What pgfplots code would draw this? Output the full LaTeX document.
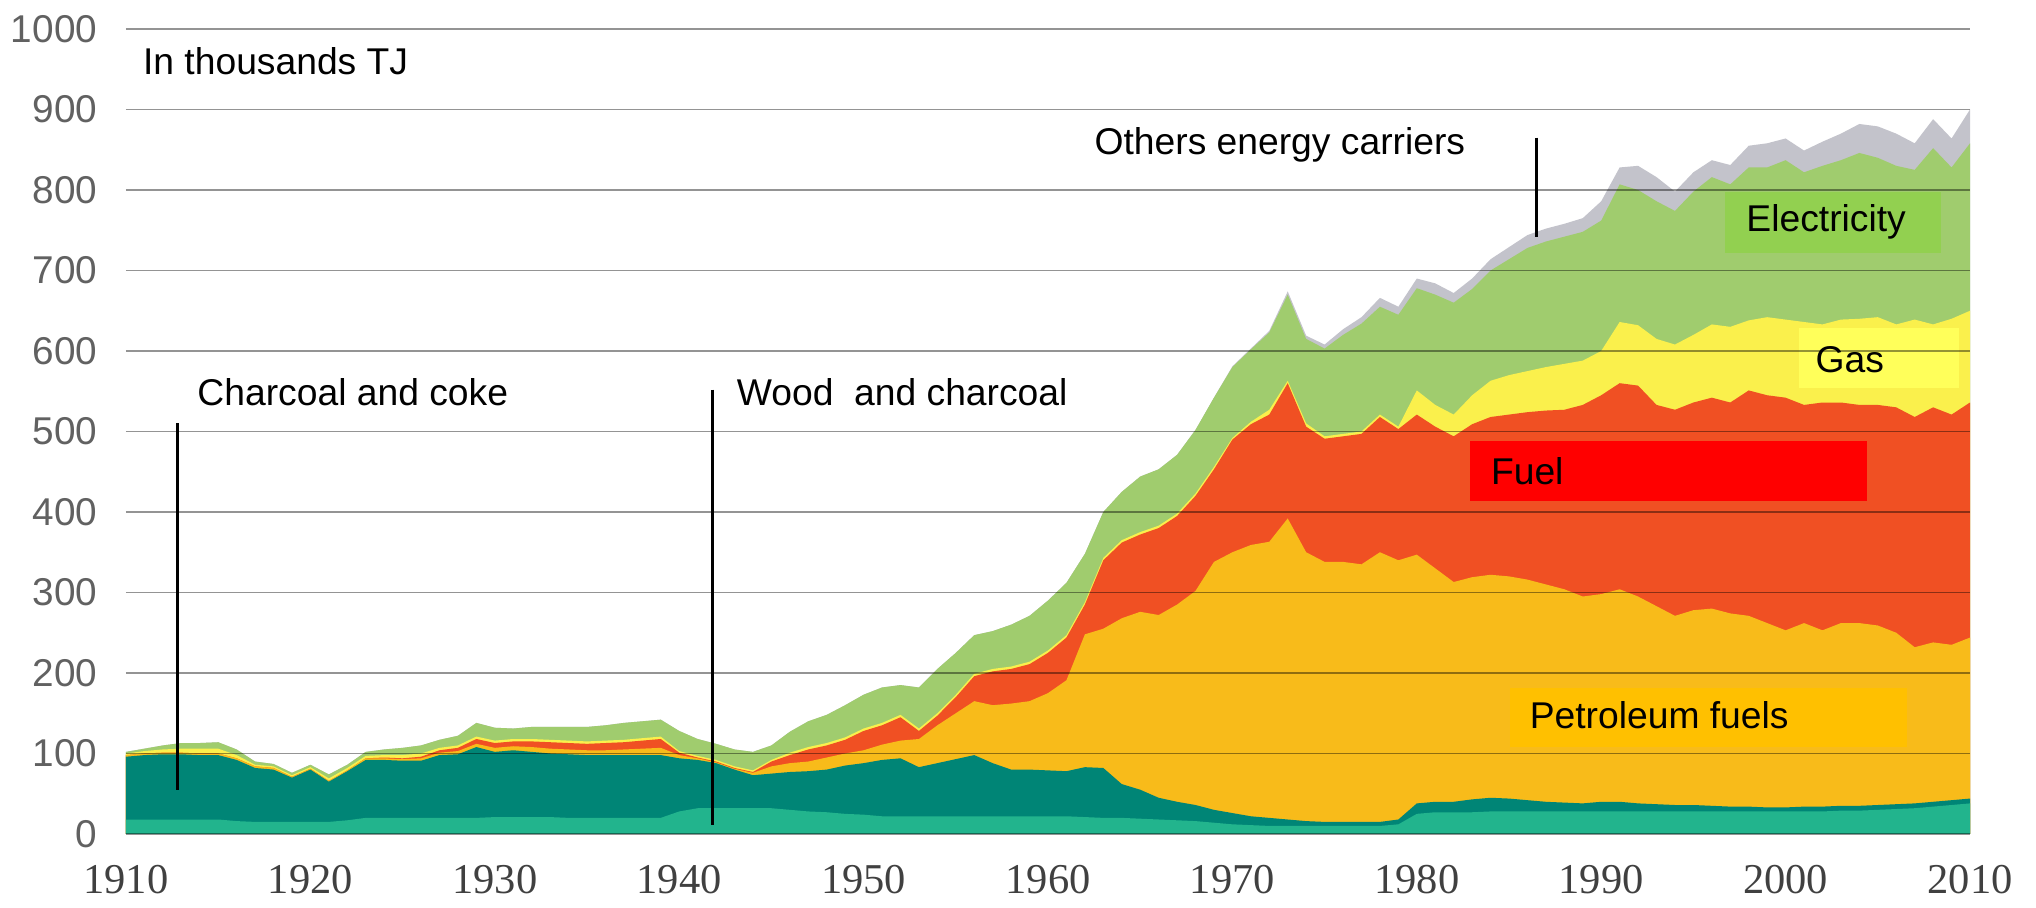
\documentclass[border=0pt]{standalone}
\usepackage{fontspec}
\setmainfont{Liberation Sans}
\newfontfamily\serifx{Liberation Serif}
\usepackage{pgfplots}
\usepackage{pgfplotstable}
\pgfplotsset{compat=1.18}
\definecolor{cW}{RGB}{34,180,141}
\definecolor{cC}{RGB}{0,133,118}
\definecolor{cP}{RGB}{248,187,26}
\definecolor{cF}{RGB}{240,80,35}
\definecolor{cG}{RGB}{250,240,76}
\definecolor{cE}{RGB}{160,204,110}
\definecolor{cO}{RGB}{195,195,203}
\definecolor{bE}{RGB}{146,208,80}
\definecolor{bG}{RGB}{255,255,90}
\definecolor{bP}{RGB}{255,192,0}
\pgfplotstableread{
year Wt Ct Pt Ft Gt Et Ot
1910 18 96 98 98 100 102 102
1911 18 98 100 100 103 106 106
1912 18 99 101 101 105 110 110
1913 18 99 101 101 106 113 113
1914 18 98 100 100 106 113 113
1915 18 98 100 100 106 114 114
1916 16 92 94 94 98 105 105
1917 15 82 84 84 86 90 90
1918 15 80 82 82 84 87 87
1919 15 70 71 71 73 76 76
1920 15 80 81 81 83 86 86
1921 15 65 66 66 69 74 74
1922 17 78 79 79 82 86 86
1923 20 92 94 94 97 102 102
1924 20 92 94 95 98 105 105
1925 20 91 93 94 98 107 107
1926 20 91 94 96 100 110 110
1927 20 98 101 104 107 117 117
1928 20 99 103 107 110 122 122
1929 20 108 112 118 121 138 138
1930 21 102 107 113 116 132 132
1931 21 104 109 115 118 131 131
1932 21 102 108 115 118 133 133
1933 21 100 106 114 117 133 133
1934 20 99 105 113 116 133 133
1935 20 98 104 112 115 133 133
1936 20 98 104 113 116 135 135
1937 20 98 105 114 117 138 138
1938 20 98 106 116 119 140 140
1939 20 98 107 118 121 142 142
1940 28 94 98 101 103 128 128
1941 32 92 94 95 97 118 118
1942 32 88 89 90 92 112 112
1943 32 80 81 82 84 105 105
1944 32 73 76 77 79 102 102
1945 32 75 84 90 92 110 110
1946 30 77 88 98 101 127 127
1947 28 78 90 105 108 140 140
1948 27 80 95 110 113 148 148
1949 25 85 100 117 120 160 160
1950 24 88 104 128 131 173 173
1951 22 92 111 135 138 182 182
1952 22 94 116 145 148 185 185
1953 22 83 118 128 131 182 182
1954 22 88 135 147 150 205 205
1955 22 93 150 170 173 225 225
1956 22 98 165 196 199 247 247
1957 22 88 160 202 205 252 252
1958 22 80 162 205 208 260 260
1959 22 80 165 211 214 271 271
1960 22 79 175 225 228 290 290
1961 22 78 191 244 247 312 312
1962 21 83 248 285 288 348 348
1963 20 82 255 340 343 400 400
1964 20 62 268 362 365 425 425
1965 19 55 276 372 375 444 444
1966 18 45 272 380 383 453 453
1967 17 40 285 395 398 471 471
1968 16 36 302 420 423 502 502
1969 14 30 338 453 456 542 542
1970 12 26 350 490 492 580 581
1971 11 22 359 509 512 602 603
1972 10 20 363 521 527 623 625
1973 10 18 392 560 563 670 674
1974 10 16 350 506 510 615 619
1975 10 15 338 491 494 603 608
1976 10 15 338 494 497 620 627
1977 10 15 335 497 500 634 642
1978 10 15 350 518 521 655 666
1979 12 18 340 503 506 645 655
1980 25 38 347 521 551 678 690
1981 27 40 330 506 533 670 684
1982 27 40 313 494 521 660 672
1983 27 43 319 509 545 677 690
1984 28 45 322 518 563 700 714
1985 28 44 320 521 570 714 729
1986 28 42 316 524 575 728 744
1987 28 40 310 526 580 736 752
1988 28 39 304 527 584 742 758
1989 28 38 295 533 588 748 765
1990 28 40 298 545 600 762 786
1991 28 40 304 560 636 807 828
1992 28 38 295 557 632 800 830
1993 28 37 283 533 615 786 816
1994 28 36 271 527 608 774 798
1995 28 36 278 536 620 798 822
1996 28 35 280 542 633 816 837
1997 28 34 274 536 630 807 831
1998 28 34 271 551 638 828 855
1999 28 33 262 545 642 828 858
2000 28 33 253 542 639 837 864
2001 28 34 262 533 636 822 849
2002 28 34 253 536 633 830 860
2003 29 35 262 536 639 837 870
2004 29 35 262 533 640 846 882
2005 30 36 259 533 642 840 879
2006 31 37 250 530 633 830 870
2007 32 38 232 518 639 825 858
2008 34 40 238 530 633 852 888
2009 36 42 235 521 640 828 864
2010 38 44 244 536 650 858 900
}\data
\newcommand{\lab}{\fontsize{14.9}{17}\selectfont}
\begin{document}
\begin{tikzpicture}
\begin{axis}[name=ax,
  scale only axis, width=737.6pt, height=322pt,
  xmin=1910, xmax=2010, ymin=0, ymax=1000,
  axis line style={draw=none},
  major tick length=0pt,
  xtick={1910,1920,1930,1940,1950,1960,1970,1980,1990,2000,2010},
  xticklabels={1910,1920,1930,1940,1950,1960,1970,1980,1990,2000,2010},
  ytick={0,100,200,300,400,500,600,700,800,900,1000},
  yticklabels={0,100,200,300,400,500,600,700,800,900,1000},
  xticklabel style={font=\serifx\fontsize{17}{20}\selectfont, text=black!75, yshift=-9pt},
  yticklabel style={font=\fontsize{15.5}{18}\selectfont, text=black!62, xshift=-8pt},
  ymajorgrids, grid style={line width=0.7pt, black, opacity=0.42},
  axis on top,
  clip=false]
\addplot[fill=cO, draw=none] table[x=year,y=Ot]{\data} \closedcycle;
\addplot[fill=cE, draw=none] table[x=year,y=Et]{\data} \closedcycle;
\addplot[fill=cG, draw=none] table[x=year,y=Gt]{\data} \closedcycle;
\addplot[fill=cF, draw=none] table[x=year,y=Ft]{\data} \closedcycle;
\addplot[fill=cP, draw=none] table[x=year,y=Pt]{\data} \closedcycle;
\addplot[fill=cC, draw=none] table[x=year,y=Ct]{\data} \closedcycle;
\addplot[fill=cW, draw=none] table[x=year,y=Wt]{\data} \closedcycle;
% label boxes
\fill[bE] (axis cs:1996.7,721.7) rectangle (axis cs:2008.4,797.5);
\fill[bG] (axis cs:2000.7,554) rectangle (axis cs:2009.4,628.6);
\fill[red] (axis cs:1982.9,414) rectangle (axis cs:2004.4,488);
\fill[bP] (axis cs:1985.05,108) rectangle (axis cs:2006.6,181);
% leader lines
\draw[line width=1.1pt] (axis cs:1912.8,510) -- (axis cs:1912.8,55);
\draw[line width=1.1pt] (axis cs:1941.8,552) -- (axis cs:1941.8,11);
\draw[line width=1.1pt] (axis cs:1986.5,865) -- (axis cs:1986.5,741);
% texts
\node[font=\lab, anchor=west, inner sep=0pt] at (axis cs:1910.9,960) {In thousands TJ};
\node[font=\lab, anchor=west, inner sep=0pt] at (axis cs:1913.85,549) {Charcoal and coke};
\node[font=\lab, anchor=west, inner sep=0pt] at (axis cs:1943.1,549) {Wood~ and charcoal};
\node[font=\lab, anchor=west, inner sep=0pt] at (axis cs:1962.5,856) {Others energy carriers};
\node[font=\lab, anchor=west, inner sep=0pt] at (axis cs:1997.85,760) {Electricity};
\node[font=\lab, anchor=west, inner sep=0pt] at (axis cs:2001.6,589) {Gas};
\node[font=\lab, anchor=west, inner sep=0pt] at (axis cs:1984.0,451) {Fuel};
\node[font=\lab, anchor=west, inner sep=0pt] at (axis cs:1986.1,148) {Petroleum fuels};
\end{axis}
\pgfresetboundingbox
\path[use as bounding box] ([xshift=-50.4pt,yshift=-29.6pt]ax.south west) rectangle ([xshift=26.4pt,yshift=11.6pt]ax.north east);
\end{tikzpicture}
\end{document}
